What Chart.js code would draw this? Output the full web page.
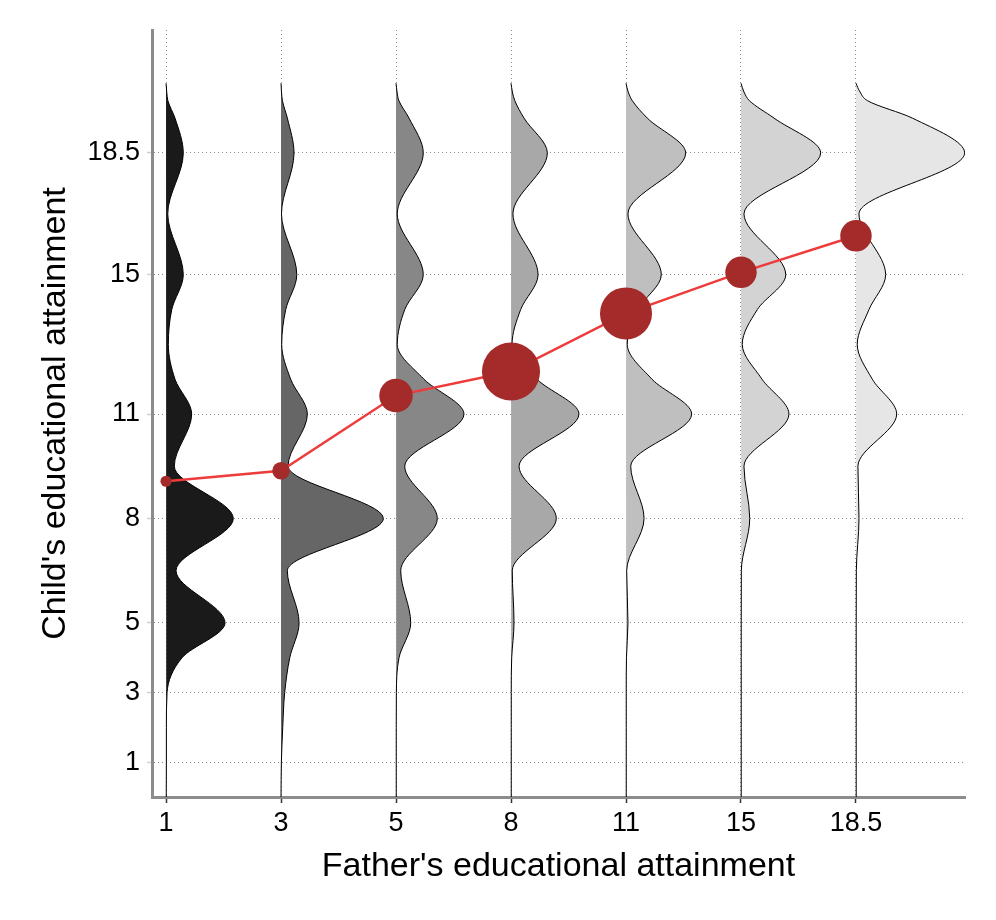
<!DOCTYPE html>
<html>
<head>
<meta charset="utf-8">
<title>Father's and child's educational attainment</title>
<script src="https://cdn.jsdelivr.net/npm/chart.js@4.4.1/dist/chart.umd.min.js"></script>
<style>
  html, body { margin: 0; padding: 0; background: #fff; }
  #chart { display: block; }
</style>
</head>
<body>
<canvas id="chart" width="996" height="920"></canvas>
<script>
// years of schooling: father groups on x, child levels on y
const fatherLevels = ["1", "3", "5", "8", "11", "15", "18.5"];
const childLevels = [1, 3, 5, 8, 11, 15, 18.5];

// mean child attainment in each father group
const childMeans = [9.07, 9.37, 11.53, 12.22, 13.89, 15.07, 16.12];
// share of fathers in each group (%), gives the dot area
const fatherShare = [1.3, 3.2, 11.7, 35.1, 28.2, 10.3, 10.3];

// child attainment heights where the densities were read
const densityAt = [0, 1, 2, 3, 4, 5, 6.5, 8, 9.5, 11, 12, 13, 14, 15, 16.75, 18.5, 19.5, 20, 20.25, 20.5];
// density width at those heights, in units of the gap between father groups
const density1 = [0.002, 0.003, 0.003, 0.009, 0.139, 0.513, 0.087, 0.585, 0.072, 0.223, 0.078, 0.02, 0.05, 0.15, 0.015, 0.15, 0.078, 0.016, 0.006, 0];
const density2 = [0, 0.003, 0.015, 0.032, 0.076, 0.157, 0.055, 0.89, 0.061, 0.229, 0.084, 0.006, 0.041, 0.137, 0.004, 0.113, 0.055, 0.012, 0.004, 0];
const density3 = [0.002, 0.002, 0.002, 0.003, 0.026, 0.128, 0.041, 0.359, 0.076, 0.591, 0.243, 0.011, 0.076, 0.237, 0.011, 0.237, 0.113, 0.025, 0.009, 0];
const density4 = [0.002, 0.002, 0.002, 0.002, 0.006, 0.026, 0.011, 0.394, 0.07, 0.591, 0.226, 0.009, 0.084, 0.235, 0.017, 0.316, 0.113, 0.033, 0.012, 0];
const density5 = [0.002, 0.002, 0.002, 0.002, 0.004, 0.017, 0.006, 0.157, 0.041, 0.571, 0.226, 0.011, 0.104, 0.307, 0.017, 0.519, 0.185, 0.055, 0.019, 0];
const density6 = [0.002, 0.002, 0.002, 0.002, 0.002, 0.002, 0.003, 0.076, 0.026, 0.417, 0.183, 0.011, 0.142, 0.389, 0.026, 0.693, 0.287, 0.073, 0.026, 0];
const density7 = [0.002, 0.002, 0.002, 0.002, 0.002, 0.002, 0.003, 0.026, 0.017, 0.354, 0.142, 0.011, 0.113, 0.258, 0.026, 0.945, 0.49, 0.1, 0.035, 0];

const densities = [density1, density2, density3, density4, density5, density6, density7];
const fillColors = ["#1a1a1a", "#666666", "#878787", "#a8a8a8", "#bfbfbf", "#d3d3d3", "#e6e6e6"];

const FONT = "'Liberation Sans', Arial, Helvetica, sans-serif";
Chart.defaults.font.family = FONT;
Chart.defaults.color = "#000";

// one closed shape per father group, drawn upwards from its axis position
const densityDatasets = densities.map((widths, i) => ({
  label: "Father " + fatherLevels[i],
  indexAxis: "y",
  data: widths.map((w, k) => ({ x: i + w, y: densityAt[k] })),
  fill: "shape",
  backgroundColor: fillColors[i],
  borderColor: "#000",
  borderWidth: 1,
  pointRadius: 0,
  cubicInterpolationMode: "monotone",
  order: 2,
}));

const meanDataset = {
  label: "Mean child attainment",
  data: childMeans.map((m, i) => ({ x: i, y: m })),
  borderColor: "#ee3b3b",
  borderWidth: 2.5,
  pointRadius: fatherShare.map((s) => 4.9 * Math.sqrt(s)),
  pointBackgroundColor: "#a52a2a",
  pointBorderWidth: 0,
  fill: false,
  tension: 0,
  order: 1,
};

new Chart(document.getElementById("chart"), {
  type: "line",
  data: { datasets: [meanDataset, ...densityDatasets] },
  options: {
    responsive: false,
    animation: false,
    events: [],
    layout: { padding: { top: 30, right: 31, left: 0, bottom: 0 } },
    plugins: {
      legend: { display: false },
      tooltip: { enabled: false },
    },
    scales: {
      x: {
        type: "linear",
        min: -0.122,
        max: 6.948,
        afterBuildTicks: (scale) => {
          scale.ticks = fatherLevels.map((_, i) => ({ value: i }));
        },
        afterFit: (scale) => {
          scale.height = 123;
        },
        ticks: {
          callback: (value) => fatherLevels[value],
          font: { size: 27 },
          color: "#000",
          padding: 4,
          maxRotation: 0,
          autoSkip: false,
        },
        grid: {
          color: "#8c8c8c",
          lineWidth: 1,
          tickLength: 6,
          tickColor: "#333",
          tickWidth: 1.5,
          tickBorderDash: [],
        },
        border: { display: true, color: "#8c8c8c", width: 3, dash: [1, 3] },
        title: {
          display: true,
          text: "Father's educational attainment",
          font: { size: 34 },
          color: "#000",
          padding: { top: 0, bottom: 33 },
        },
      },
      y: {
        type: "linear",
        min: 0,
        max: 22.03,
        afterBuildTicks: (scale) => {
          scale.ticks = childLevels.map((v) => ({ value: v }));
        },
        afterFit: (scale) => {
          scale.width = 152;
        },
        ticks: {
          callback: (value) => String(value),
          font: { size: 27 },
          color: "#000",
          padding: 7,
        },
        grid: {
          color: "#8c8c8c",
          lineWidth: 1,
          tickLength: 5,
          tickColor: "#d0d0d0",
          tickWidth: 1.5,
          tickBorderDash: [],
        },
        border: { display: true, color: "#8c8c8c", width: 3, dash: [1, 3] },
        title: {
          display: true,
          text: "Child's educational attainment",
          font: { size: 34 },
          color: "#000",
          padding: { top: 35, bottom: 0 },
        },
      },
    },
  },
});
</script>
</body>
</html>
